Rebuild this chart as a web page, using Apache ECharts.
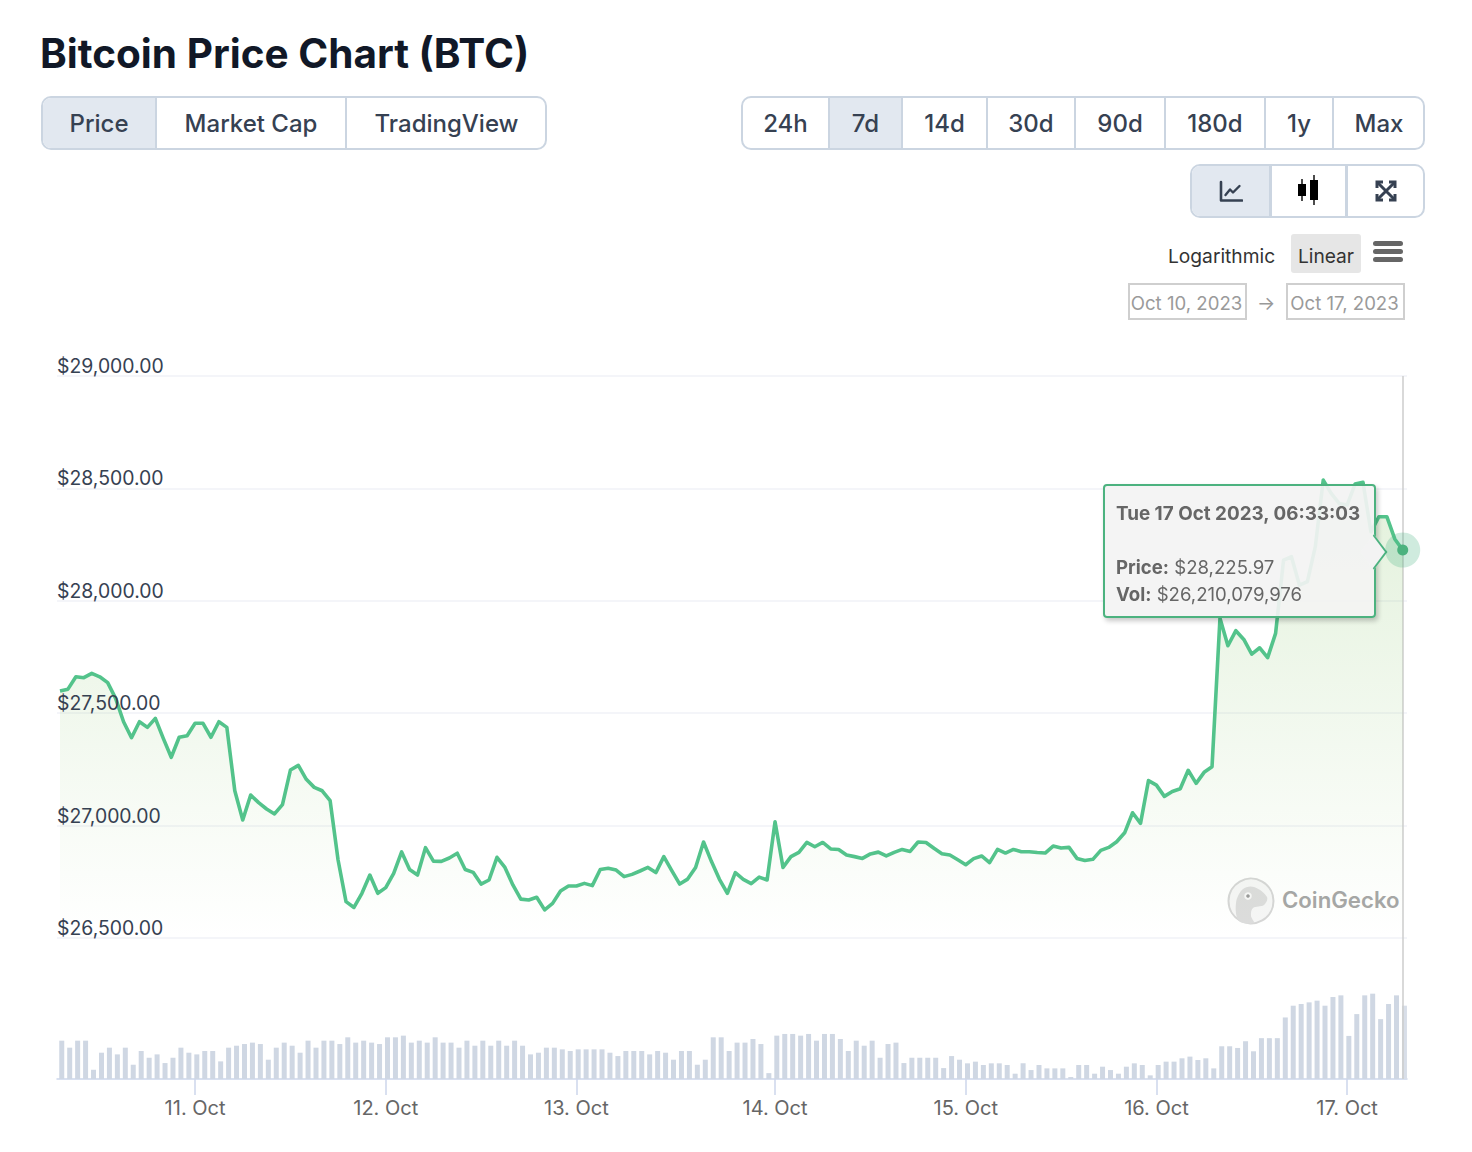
<!DOCTYPE html>
<html>
<head>
<meta charset="utf-8">
<title>Bitcoin Price Chart (BTC)</title>
<script src="https://cdn.jsdelivr.net/npm/echarts@6/dist/echarts.min.js"></script>
<style>
  html,body{margin:0;padding:0;background:#fff;width:1472px;height:1152px;overflow:hidden;font-family:Inter,"Noto Sans",sans-serif}
  #chart{position:absolute;left:0;top:0;width:1472px;height:1152px}
  .group{position:absolute;box-sizing:border-box;border:2px solid #cbd5e1;border-radius:10px;display:flex;overflow:hidden;background:#fff;z-index:5}
  .seg{box-sizing:border-box;display:flex;align-items:center;justify-content:center;border-left:2px solid #cbd5e1;color:#364152;font-size:24px;font-weight:500;height:100%;flex:none}
  .seg:first-child{border-left:0}
  .seg.on{background:#e2e8f0}
  .icons .seg{border-left-width:3.5px}
  .icons .seg:first-child{border-left:0}
  .abs{position:absolute;z-index:5;white-space:nowrap}
  .date{box-sizing:border-box;border:2px solid #cfcfcf;color:#9a9a9a;font-size:18.6px;display:flex;align-items:center;justify-content:center;height:37px;top:283px;width:119px;padding-top:3px;padding-right:2px}
</style>
</head>
<body>
<div id="chart"></div>
<script>
const chartTitle = 'Bitcoin Price Chart (BTC)';
const viewTabs = ['Price', 'Market Cap', 'TradingView'];
const rangeTabs = ['24h', '7d', '14d', '30d', '90d', '180d', '1y', 'Max'];
const scaleLabels = ['Logarithmic', 'Linear'];
const dateFrom = 'Oct 10, 2023';
const dateTo = 'Oct 17, 2023';
const brand = 'CoinGecko';

const dayLabels = ['11. Oct', '12. Oct', '13. Oct', '14. Oct', '15. Oct', '16. Oct', '17. Oct'];
const dayPointIndex = [17, 41, 65, 90, 114, 138, 162];

const prices = [
  27599,27607,27662,27658,27677,27662,27636,27566,27462,27391,
  27462,27437,27477,27388,27304,27393,27400,27455,27455,27393,
  27462,27437,27155,27025,27136,27102,27074,27052,27093,27247,
  27268,27206,27170,27155,27111,26847,26662,26636,26699,26780,
  26699,26724,26788,26883,26805,26780,26902,26842,26841,26856,
  26877,26805,26792,26740,26758,26859,26814,26736,26673,26669,
  26681,26625,26654,26709,26731,26731,26743,26733,26805,26810,
  26802,26773,26783,26798,26814,26791,26862,26800,26740,26762,
  26814,26927,26840,26761,26699,26791,26761,26742,26771,26758,
  27017,26814,26862,26881,26925,26906,26925,26896,26894,26869,
  26862,26854,26874,26882,26865,26881,26894,26885,26927,26925,
  26899,26875,26869,26848,26826,26853,26865,26835,26894,26878,
  26894,26884,26884,26880,26878,26909,26900,26903,26854,26845,
  26850,26890,26903,26928,26968,27057,27010,27200,27180,27130,
  27152,27164,27246,27188,27237,27262,27922,27800,27867,27828,
  27763,27791,27747,27855,28181,28196,28070,28085,28241,28537,
  28478,28433,28426,28519,28527,28307,28374,28374,28275,28225.97
];

// volume, billions of USD
const volumes = [
  13.7,11.2,13.7,13.7,3.3,9.4,11.2,8.8,11.2,5.1,
  10.0,7.6,8.8,5.7,7.6,11.2,9.4,8.8,10.0,10.0,
  6.3,11.2,11.9,12.5,13.0,12.5,6.9,11.2,13.0,11.9,
  9.4,13.7,11.2,13.7,13.7,12.5,14.9,13.0,13.7,13.0,
  12.5,14.9,14.9,15.5,13.0,13.7,13.0,14.9,13.0,13.0,
  11.2,13.7,11.9,13.7,11.9,13.7,11.9,13.7,11.9,8.8,
  9.4,11.2,11.2,10.6,10.0,10.6,10.6,10.6,10.6,9.4,
  8.2,10.0,10.0,10.0,8.8,10.0,9.4,6.9,10.0,10.0,
  5.1,6.9,14.9,14.9,10.0,13.0,13.0,14.3,12.5,2.1,
  15.5,16.1,16.1,15.5,16.1,13.7,16.1,16.1,14.3,10.0,
  13.7,11.9,13.7,7.6,12.5,13.0,5.7,7.6,7.6,7.6,
  7.6,3.9,8.2,6.9,5.6,6.2,5.0,5.6,5.6,5.0,
  1.9,5.6,3.2,5.0,3.8,3.8,3.8,0.7,5.0,5.0,
  1.9,4.4,3.2,1.9,4.4,5.6,5.0,1.3,5.0,6.2,
  6.2,7.4,8.0,6.8,7.4,3.8,11.7,11.7,11.1,13.5,
  9.9,14.6,14.6,14.6,22.0,26.2,26.8,27.4,28.0,26.2,
  29.3,29.9,15.4,23.2,29.9,30.5,21.4,26.8,29.9,26.21
];

const tipTime = 'Tue 17 Oct 2023, 06:33:03';
const tipPrice = '$28,225.97';
const tipVolume = '$26,210,079,976';

/* ---------- page controls ---------- */
function addGroup(labels, left, top, height, widths, activeIdx, cls) {
  const g = document.createElement('div');
  g.className = 'group ' + (cls || '');
  g.style.cssText = `left:${left}px;top:${top}px;height:${height}px;width:${widths.reduce((a,b)=>a+b,0)}px`;
  labels.forEach((t, i) => {
    const s = document.createElement('div');
    s.className = 'seg' + (i === activeIdx ? ' on' : '');
    s.style.width = (i === 0 ? widths[i] - 3 : widths[i]) + 'px';
    s.innerHTML = t;
    g.appendChild(s);
  });
  document.body.appendChild(g);
}
addGroup(viewTabs, 41, 96, 54, [115, 190, 201], 0);
addGroup(rangeTabs, 741, 96, 54, [88, 73, 85, 88, 90, 100, 68, 92], 1);
const iconLine = '<svg width="24" height="24" viewBox="0 0 24 24" fill="none" stroke="#364152" stroke-width="2.6" stroke-linecap="round" stroke-linejoin="round"><path d="M2 3V21.5H23"/><path d="M6.5 16L11 10.5L14 13.5L20.5 7" stroke-width="2.4"/></svg>';
const iconCandle = '<svg width="26" height="32" viewBox="0 0 26 32" fill="#000"><rect x="2" y="9" width="8" height="12"/><rect x="5.3" y="4" width="1.4" height="22"/><rect x="14" y="5" width="8" height="20"/><rect x="17.3" y="0" width="1.4" height="30"/></svg>';
const iconExpand = '<svg width="22" height="22" viewBox="0 0 22 22" fill="none" stroke="#364152" stroke-width="3"><path d="M2 8V2H8M14 2H20V8M20 14V20H14M8 20H2V14"/><path d="M3 3L19 19M19 3L3 19"/></svg>';
addGroup([iconLine, iconCandle, iconExpand], 1190, 164, 54, [80, 76, 79], 0, 'icons');

function addText(text, left, top, css) {
  const d = document.createElement('div');
  d.className = 'abs';
  d.style.cssText = `left:${left}px;top:${top}px;${css}`;
  d.textContent = text;
  document.body.appendChild(d);
  return d;
}
addText(scaleLabels[0], 1168, 245, 'font-size:19.2px;color:#333;line-height:23px');
addText(scaleLabels[1], 1291, 234, 'font-size:19.2px;color:#333;background:#e6e6e6;width:70px;height:39px;line-height:44px;text-align:center;border-radius:3px');
[241, 249, 257].forEach(y => addText('', 1373, y, 'width:30px;height:5.4px;background:#666;border-radius:3px'));
const d1 = addText(dateFrom, 1128, 283, ''); d1.classList.add('date');
addText('\u2192', 1257, 291, 'font-size:19.2px;color:#999;line-height:24px');
const d2 = addText(dateTo, 1286, 283, ''); d2.classList.add('date');

/* ---------- chart ---------- */
const GREEN = '#4cb27f';
const xRange = { min: -0.378, max: 169.54 };
const barShift = 0.22;
const priceAxis = { min: 26500, max: 29000, interval: 500 };

const pointIdx = prices.map((_, i) => i);
const chart = echarts.init(document.getElementById('chart'), null, { renderer: 'svg' });

const tipHtml = () =>
  `<div style="position:relative;box-sizing:border-box;width:273px;height:134px;background:rgba(243,243,243,0.92);border:2px solid ${GREEN};border-radius:4px;box-shadow:2px 3px 5px rgba(0,0,0,.22);font-family:Inter,sans-serif;font-size:18.6px;color:#666;line-height:27px;padding:0 0 0 11px">
     <div style="position:absolute;right:-11px;top:55px;width:20px;height:20px;background:#f3f3f3;border-top:2px solid ${GREEN};border-right:2px solid ${GREEN};transform:rotate(45deg) skew(8deg,8deg)"></div>
     <div style="font-weight:700;padding-top:14px;font-size:18.85px">${tipTime}</div>
     <div style="height:27px"></div>
     <div><b>Price:</b> ${tipPrice}</div>
     <div><b>Vol:</b> ${tipVolume}</div>
   </div>`;

const crosshair = { show: true, type: 'line', snap: true, z: 2, label: { show: false }, lineStyle: { color: '#cccccc', width: 1.5, type: 'solid' } };

chart.setOption({
  animation: false,
  backgroundColor: '#fff',
  title: {
    text: chartTitle, left: 40, top: 33, padding: 0,
    textStyle: { fontFamily: 'Inter', fontWeight: 700, fontSize: 40.5, color: '#111827' }
  },
  tooltip: {
    trigger: 'axis',
    triggerOn: 'none',
    alwaysShowContent: true,
    transitionDuration: 0,
    padding: 0,
    borderWidth: 0,
    backgroundColor: 'transparent',
    extraCssText: 'box-shadow:none;z-index:4;',
    position: () => [1103, 484],
    formatter: tipHtml
  },
  axisPointer: { link: [{ xAxisIndex: [0, 1] }] },
  grid: [
    { left: 57, width: 1350, top: 376, height: 562 },
    { left: 57, width: 1350, top: 938, height: 141 }
  ],
  xAxis: [
    {
      type: 'value', gridIndex: 0, min: xRange.min, max: xRange.max,
      axisLine: { show: false }, axisTick: { show: false }, axisLabel: { show: false }, splitLine: { show: false },
      axisPointer: crosshair
    },
    {
      type: 'value', gridIndex: 1, min: xRange.min, max: xRange.max,
      axisLine: { show: true, lineStyle: { color: '#ccd6eb', width: 1.5 } },
      axisTick: { show: true, length: 16, customValues: dayPointIndex, lineStyle: { color: '#ccd6eb', width: 1.5 } },
      axisLabel: {
        show: true, customValues: dayPointIndex, margin: 17,
        formatter: v => dayLabels[dayPointIndex.indexOf(v)],
        color: '#666', fontFamily: 'Inter', fontSize: 20, lineHeight: 24
      },
      splitLine: { show: false },
      axisPointer: crosshair
    },
    {
      type: 'value', gridIndex: 1, show: false, min: xRange.min - barShift, max: xRange.max - barShift,
      axisPointer: { show: false }
    }
  ],
  yAxis: [
    {
      type: 'value', gridIndex: 0, min: priceAxis.min, max: priceAxis.max, interval: priceAxis.interval, z: 0,
      axisLine: { show: false }, axisTick: { show: false }, axisLabel: { show: false },
      splitLine: { show: true, lineStyle: { color: '#f0f2f7', width: 1.5 } }
    },
    {
      type: 'value', gridIndex: 1, min: 0, max: 50.4, show: false, splitLine: { show: false }
    },
    {
      type: 'value', gridIndex: 0, min: priceAxis.min, max: priceAxis.max, interval: priceAxis.interval, z: 10, position: 'left',
      axisLine: { show: false }, axisTick: { show: false }, splitLine: { show: false },
      axisLabel: {
        inside: true, margin: 0, verticalAlign: 'bottom', align: 'left', lineHeight: 20,
        color: '#364152', fontFamily: 'Inter', fontSize: 19.4,
        formatter: v => '$' + v.toLocaleString('en-US', { minimumFractionDigits: 2 })
      }
    }
  ],
  series: [
    {
      type: 'bar', xAxisIndex: 2, yAxisIndex: 1, barWidth: 5, z: 1, silent: true,
      data: volumes.map((v, i) => [i, v]),
      itemStyle: { color: p => p.dataIndex === volumes.length - 1 ? '#d8dee8' : '#cfd7e3' }
    },
    {
      type: 'line', xAxisIndex: 0, yAxisIndex: 0, z: 3, smooth: false,
      showSymbol: false, symbol: 'none',
      data: pointIdx.map(i => [i, prices[i]]),
      lineStyle: { color: GREEN, width: 3.6, join: 'round' },
      itemStyle: { color: GREEN },
      areaStyle: {
        origin: 'start',
        color: {
          type: 'linear', x: 0, y: 0, x2: 0, y2: 1,
          colorStops: [
            { offset: 0, color: 'rgba(120,178,92,0.33)' },
            { offset: 1, color: 'rgba(120,178,92,0.00)' }
          ]
        }
      },
      markPoint: {
        silent: true, animation: false, z: 8,
        label: { show: false },
        data: [
          { coord: [prices.length - 1, prices[prices.length - 1]], symbol: 'circle', symbolSize: 35, itemStyle: { color: 'rgba(78,181,132,0.27)' } },
          { coord: [prices.length - 1, prices[prices.length - 1]], symbol: 'circle', symbolSize: 11, itemStyle: { color: GREEN } }
        ]
      }
    }
  ],
  graphic: [
    { type: 'circle', z: 0, shape: { cx: 1251, cy: 901, r: 22.5 }, style: { fill: '#f6f6f6', stroke: '#d6d6d6', lineWidth: 2 } },
    { type: 'polygon', z: 0, shape: { smooth: 0.35, points: [[1239, 921], [1236, 903], [1243, 889], [1254, 887], [1267, 897], [1264, 905], [1253, 908], [1251, 916], [1254, 923]] }, style: { fill: '#dcdcdc' } },
    { type: 'circle', z: 0, shape: { cx: 1248, cy: 896, r: 3.8 }, style: { fill: '#f7f7f7' } },
    { type: 'circle', z: 0, shape: { cx: 1248, cy: 896, r: 1.8 }, style: { fill: '#9a9a9a' } },
    { type: 'text', z: 0, x: 1282, y: 888, style: { text: brand, fill: '#a6a6a6', font: '600 22.2px Inter' } }
  ]
});
chart.dispatchAction({ type: 'showTip', seriesIndex: 1, dataIndex: prices.length - 1 });
</script>
</body>
</html>
